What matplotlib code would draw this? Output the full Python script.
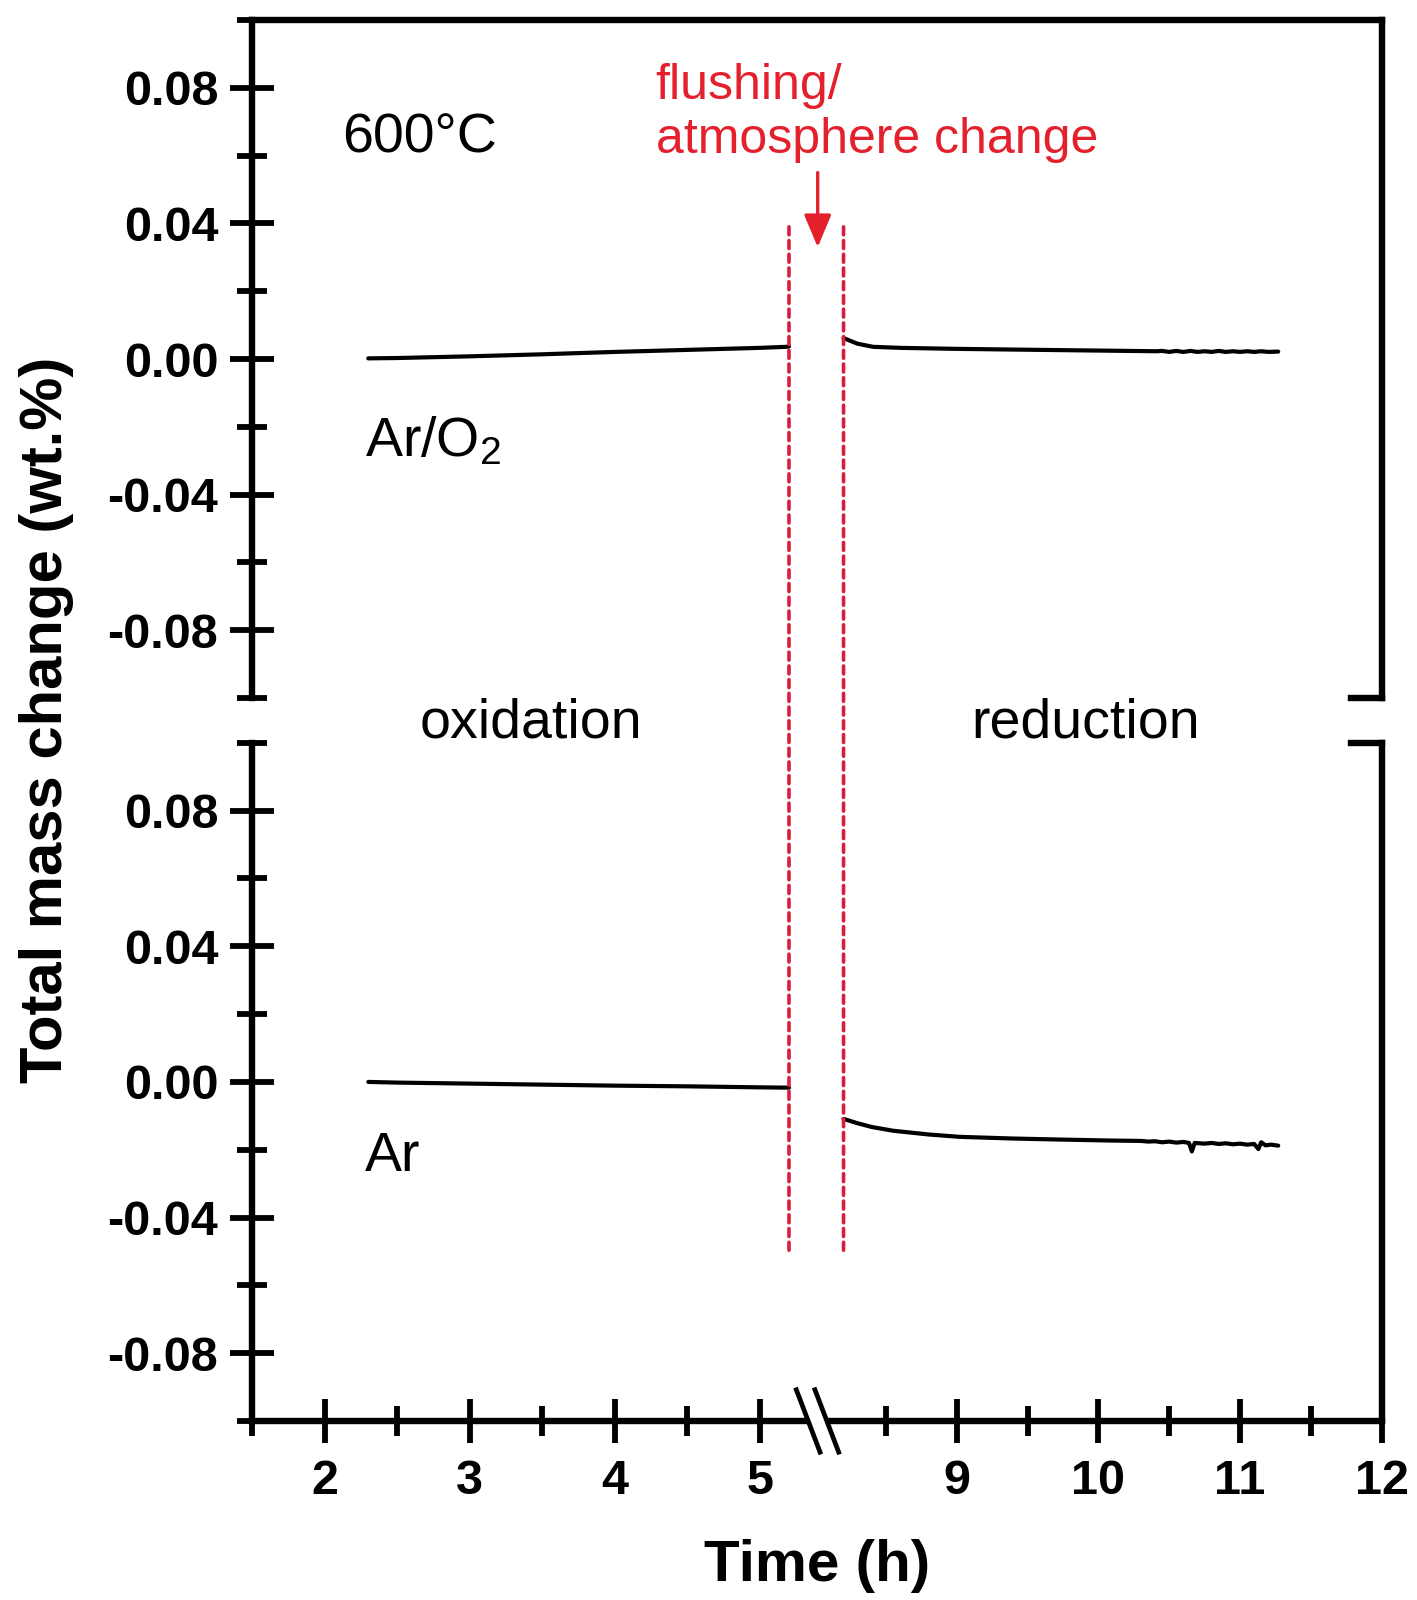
import numpy as np
import matplotlib
matplotlib.use("Agg")
import matplotlib.pyplot as plt
from matplotlib.patches import ConnectionPatch, Polygon
from matplotlib.lines import Line2D

plt.rcParams['font.family'] = ['Liberation Sans', 'DejaVu Sans']
plt.rcParams['mathtext.fontset'] = 'custom'
plt.rcParams['mathtext.rm'] = 'Liberation Sans'
plt.rcParams['mathtext.it'] = 'Liberation Sans:italic'
plt.rcParams['mathtext.bf'] = 'Liberation Sans:bold'

# ---------------- data ----------------
# Ar/O2 atmosphere (top panel)
t_ox_top = [2.3, 2.5, 3.0, 3.5, 3.71, 4.0, 4.5, 5.0, 5.18, 5.2]
m_ox_top = [0.0002, 0.0003, 0.0008, 0.0014, 0.0017, 0.0021, 0.0027, 0.0033, 0.0036, 0.0037]
t_red_top = [8.2, 8.24, 8.3, 8.41, 8.6, 9.0, 9.59, 10.0, 10.41, 10.45, 10.5, 10.55, 10.6,
             10.65, 10.7, 10.75, 10.8, 10.85, 10.9, 10.95, 11.0, 11.05, 11.1, 11.15,
             11.2, 11.27]
m_red_top = [0.0062, 0.0055, 0.0045, 0.0036, 0.0033, 0.0030, 0.0027, 0.0025, 0.0023, 0.0024,
             0.0021, 0.0024, 0.0021, 0.0024, 0.0021, 0.0023, 0.0021, 0.0024, 0.0021, 0.0023,
             0.0021, 0.0023, 0.0021, 0.0023, 0.0021, 0.0022]

# Ar atmosphere (bottom panel)
t_ox_bot = [2.3, 2.5, 3.0, 3.5, 4.0, 4.5, 5.0, 5.2]
m_ox_bot = [0.0000, -0.0002, -0.0005, -0.0008, -0.0011, -0.0013, -0.0016, -0.0017]
t_red_bot = [8.2, 8.3, 8.4, 8.55, 8.8, 9.02, 9.4, 9.73, 10.1, 10.3, 10.35, 10.4, 10.45,
             10.5, 10.55, 10.6, 10.64, 10.66, 10.68, 10.75, 10.8, 10.85, 10.9, 10.95,
             11.0, 11.05, 11.1, 11.13, 11.15, 11.18, 11.22, 11.27]
m_red_bot = [-0.0109, -0.0122, -0.0133, -0.0144, -0.0155, -0.0162, -0.0167, -0.0170, -0.0173,
             -0.0174, -0.0176, -0.0175, -0.0178, -0.0176, -0.0179, -0.0177, -0.0180, -0.0205,
             -0.0180, -0.0182, -0.0180, -0.0183, -0.0181, -0.0184, -0.0182, -0.0185, -0.0183,
             -0.0198, -0.0178, -0.0187, -0.0185, -0.0188]

x_major = [2, 3, 4, 5, 9, 10, 11, 12]
x_major_labels = ['2', '3', '4', '5', '9', '10', '11', '12']
x_minor = [1.5, 2.5, 3.5, 4.5, 8.5, 9.5, 10.5, 11.5]
y_major = [0.08, 0.04, 0.00, -0.04, -0.08]
y_major_labels = ['0.08', '0.04', '0.00', '-0.04', '-0.08']
y_minor = [0.10, 0.06, 0.02, -0.02, -0.06, -0.10]

t_switch_start = 5.2
t_switch_end = 8.2

# ---------------- broken x scale ----------------
A = 5.42   # last hour shown before the break
B = 8.04   # first hour shown after the break
R = 0.976  # relative scale of the right part


def fwd(x):
    x = np.asarray(x, dtype=float)
    return np.where(x <= A, x, np.where(x >= B, A + (x - B) * R, A))


def inv(u):
    u = np.asarray(u, dtype=float)
    return np.where(u <= A, u, B + (u - A) / R)


fig = plt.figure(figsize=(14.17, 16), dpi=100)
L, W = 0.178, 0.797
ax_top = fig.add_axes([L, 0.5637, W, 0.4238])
ax_bot = fig.add_axes([L, 0.1119, W, 0.4238])

SPW = 4.6
RED = '#e3202c'
DRED = '#d81e3c'

for ax in (ax_top, ax_bot):
    ax.set_xscale('function', functions=(fwd, inv))
    ax.set_xlim(1.5, 12)
    ax.set_ylim(-0.1, 0.1)
    ax.set_yticks(y_major, y_major_labels)
    ax.set_yticks(y_minor, minor=True)
    ax.tick_params(axis='y', which='both', direction='inout', left=True, right=False,
                   width=4.2, labelsize=35, pad=9)
    ax.tick_params(axis='y', which='major', length=31)
    ax.tick_params(axis='y', which='minor', length=21.5)
    for lab in ax.get_yticklabels():
        lab.set_fontweight('bold')
    for s in ax.spines.values():
        s.set_linewidth(SPW)

ax_top.spines['bottom'].set_visible(False)
ax_bot.spines['top'].set_visible(False)
ax_top.tick_params(axis='x', which='both', bottom=False, top=False, labelbottom=False)

ax_bot.set_xticks(x_major, x_major_labels)
ax_bot.set_xticks(x_minor, minor=True)
ax_bot.tick_params(axis='x', which='both', direction='inout', width=4.2, labelsize=35, pad=12)
ax_bot.tick_params(axis='x', which='major', length=31)
ax_bot.tick_params(axis='x', which='minor', length=21.5)
for lab in ax_bot.get_xticklabels():
    lab.set_fontweight('bold')

# curves
for ax, tx, my in ((ax_top, t_ox_top, m_ox_top), (ax_top, t_red_top, m_red_top),
                   (ax_bot, t_ox_bot, m_ox_bot), (ax_bot, t_red_bot, m_red_bot)):
    ax.plot(tx, my, color='black', lw=3.0, solid_joinstyle='round', solid_capstyle='round')

# dashed red lines spanning both panels
for tx in (t_switch_start, t_switch_end):
    cp = ConnectionPatch(xyA=(tx, 0.039), coordsA=ax_top.transData,
                         xyB=(tx, -0.050), coordsB=ax_bot.transData,
                         color=DRED, lw=2.6, linestyle=(0, (2.2, 1.6)), zorder=5)
    fig.add_artist(cp)

# arrow
ax_top.annotate('', xy=(5.398, 0.0330), xytext=(5.398, 0.0550),
                arrowprops=dict(arrowstyle='-|>,head_length=1.0,head_width=0.42',
                                mutation_scale=20, color=RED, lw=2.4,
                                shrinkA=0, shrinkB=0))

# texts
ax_top.text(4.28, 0.0767, 'flushing/', color=RED, fontsize=36, va='baseline', ha='left')
ax_top.text(4.28, 0.0608, 'atmosphere change', color=RED, fontsize=36, va='baseline', ha='left')
ax_top.text(2.12, 0.0608, '600°C', fontsize=40, va='baseline', ha='left')
ax_top.text(2.28, -0.0286, r'Ar/O$_\mathregular{2}$', fontsize=40, va='baseline', ha='left')
ax_top.text(3.42, -0.1115, 'oxidation', fontsize=40, va='baseline', ha='center')
ax_top.text(9.91, -0.1115, 'reduction', fontsize=40, va='baseline', ha='center')
ax_bot.text(2.28, -0.0262, 'Ar', fontsize=40, va='baseline', ha='left')

fig.text(0.033, 0.55, 'Total mass change (wt.%)', rotation=90, fontsize=43,
         fontweight='bold', va='center', ha='center')
fig.text(0.5766, 0.021, 'Time (h)', fontsize=42, fontweight='bold', va='center', ha='center')

# right-side bracket ends of the broken y axis
tick_frac = 31 / 1130
ax_top.add_line(Line2D([1, 1 - tick_frac], [0, 0], transform=ax_top.transAxes,
                       color='black', lw=SPW, clip_on=False, solid_capstyle='projecting'))
ax_bot.add_line(Line2D([1, 1 - tick_frac], [1, 1], transform=ax_bot.transAxes,
                       color='black', lw=SPW, clip_on=False, solid_capstyle='projecting'))

# break marks on the x axis
u0, u1 = fwd(1.5), fwd(12)
xb = float((fwd(A) - u0) / (u1 - u0)) - 0.003
dx_half = 0.0105
dy = 0.046
sep = 0.0165
poly = Polygon([(xb - sep / 2 - dx_half, dy), (xb + sep / 2 - dx_half, dy),
                (xb + sep / 2 + dx_half, -dy), (xb - sep / 2 + dx_half, -dy)],
               closed=True, transform=ax_bot.transAxes, facecolor='white',
               edgecolor='none', clip_on=False, zorder=6)
ax_bot.add_patch(poly)
for off in (-sep / 2, sep / 2):
    ax_bot.add_line(Line2D([xb + off - dx_half, xb + off + dx_half], [dy, -dy],
                           transform=ax_bot.transAxes, color='black', lw=3.4,
                           clip_on=False, zorder=7))

fig.savefig('out.png', dpi=100)
